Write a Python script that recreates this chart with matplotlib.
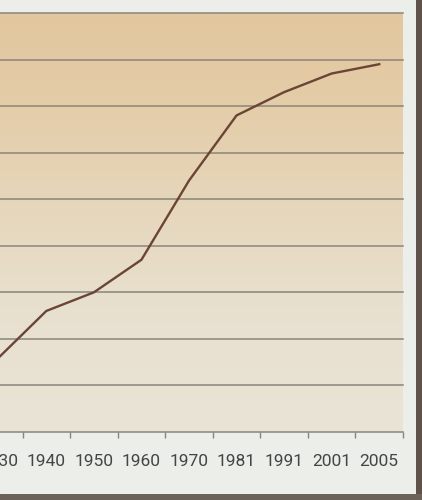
import matplotlib

matplotlib.use("Agg")

import matplotlib.pyplot as plt
import numpy as np
from matplotlib.colors import LinearSegmentedColormap

W, H, DPI = 422, 500, 100

years = ["1930", "1940", "1950", "1960", "1970", "1981", "1991", "2001", "2005"]
values = [16, 26, 30, 37, 54, 68, 73, 77, 79]
grid_levels = [0, 10, 20, 30, 40, 50, 60, 70, 80, 90]

PAGE = "#eceee9"
GRID = "#8a857b"
LINE = "#6a4536"
TEXT = "#454545"


def px_rect(x0, y0, x1, y1):
    """Pixel box (top-left origin) -> figure fraction rect."""
    return [x0 / W, 1 - y1 / H, (x1 - x0) / W, (y1 - y0) / H]


fig = plt.figure(figsize=(W / DPI, H / DPI), dpi=DPI, facecolor=PAGE)

ax = fig.add_axes(px_rect(-25, 13, 403, 432))
n = len(years)
ax.set_xlim(-0.5, n - 0.5)
ax.set_ylim(grid_levels[0], grid_levels[-1])

# paper tint: pale beige near the axis, warm tan over the upper half
cmap = LinearSegmentedColormap.from_list(
    "paper",
    [
        (0.0, "#e9e4d6"),
        (0.3, "#e8e0cf"),
        (0.55, "#e6d6ba"),
        (0.8, "#e4cca7"),
        (1.0, "#e2c79e"),
    ],
)
grad = np.linspace(0, 1, 256).reshape(-1, 1)
ax.imshow(
    grad,
    cmap=cmap,
    origin="lower",
    aspect="auto",
    extent=(-0.5, n - 0.5, grid_levels[0], grid_levels[-1]),
    zorder=0,
)

for lvl in grid_levels:
    ax.axhline(lvl, color=GRID, lw=1.1, zorder=1, clip_on=False)

x = np.arange(n)
ax.plot(x, values, color=LINE, lw=1.7, zorder=3)

for s in ax.spines.values():
    s.set_visible(False)
ax.set_yticks([])

# tick marks on the band edges, year labels in the middle of each band
ax.set_xticks(np.arange(n + 1) - 0.5)
ax.set_xticklabels([])
ax.tick_params(axis="x", which="major", direction="out", length=4, width=1, color=GRID)
ax.set_xticks(x, minor=True)
ax.set_xticklabels(years, minor=True, fontsize=12.5, color=TEXT, family="Roboto")
ax.tick_params(axis="x", which="minor", length=0, pad=16)

# right page edge and shadow along the bottom
edge = fig.add_axes(px_rect(416, 0, 422, 500))
edge.set_axis_off()
edge.add_patch(plt.Rectangle((0, 0), 1, 1, color="#5e524b", transform=edge.transAxes))
shadow = fig.add_axes(px_rect(0, 494, 422, 500))
shadow.set_axis_off()
shadow.add_patch(plt.Rectangle((0, 0), 1, 1, color="#6d625a", transform=shadow.transAxes))

fig.savefig("out.png", dpi=DPI, facecolor=PAGE)
